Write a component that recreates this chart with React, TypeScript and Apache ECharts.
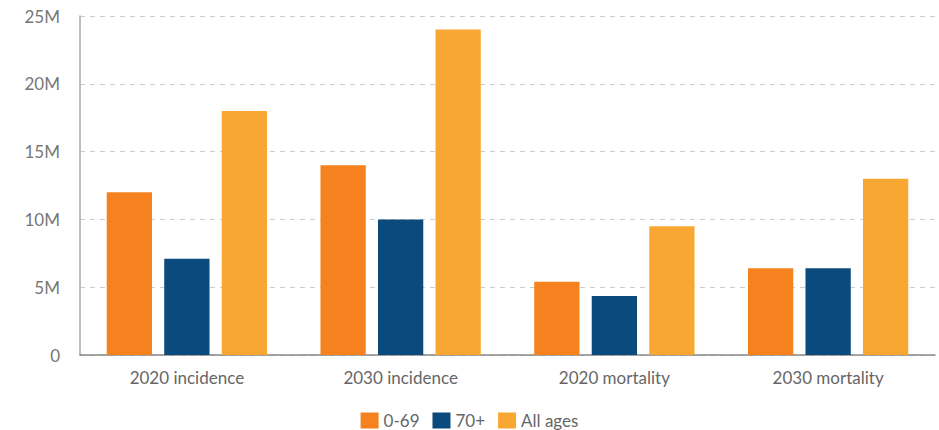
import React, { useEffect, useRef } from "react";
import * as echarts from "echarts";

const categories = ["2020 incidence", "2030 incidence", "2020 mortality", "2030 mortality"];
const seriesNames = ["0-69", "70+", "All ages"];
const age0to69 = [12000000, 14000000, 5400000, 6400000];
const age70plus = [7100000, 10000000, 4350000, 6400000];
const allAges = [18000000, 24000000, 9500000, 13000000];
const colors = ["#F5821F", "#0B4A7D", "#F8A832"];

export default function App() {
  const ref = useRef<HTMLDivElement>(null);
  useEffect(() => {
    document.body.style.margin = "0";
    const chart = echarts.init(ref.current!, null, { renderer: "svg" });
    const values = [age0to69, age70plus, allAges];
    chart.setOption({
      animation: false,
      textStyle: { fontFamily: "Lato" },
      grid: { left: 80, right: 4, top: 16, bottom: 75 },
      legend: {
        top: 412,
        left: "center",
        padding: 0,
        itemWidth: 18,
        itemHeight: 16,
        itemGap: 13,
        icon: "rect",
        textStyle: { color: "#666", fontSize: 17, fontFamily: "Lato" },
        data: seriesNames,
      },
      xAxis: {
        type: "category",
        data: categories,
        axisLine: { lineStyle: { color: "#888", width: 1.5 } },
        axisTick: { show: false },
        axisLabel: { color: "#666", fontSize: 17, margin: 14, fontFamily: "Lato" },
      },
      yAxis: {
        type: "value",
        min: 0,
        max: 25000000,
        interval: 5000000,
        axisLine: { show: true, lineStyle: { color: "#aaa", width: 1.5 } },
        axisTick: { show: false },
        axisLabel: {
          color: "#777",
          fontSize: 17,
          margin: 20,
          fontFamily: "Lato",
          formatter: (v: number) => (v === 0 ? "0" : v / 1000000 + "M"),
        },
        splitLine: { lineStyle: { color: "#ccc", type: [5, 5] } },
      },
      series: seriesNames.map((name, i) => ({
        name,
        type: "bar",
        data: values[i],
        itemStyle: { color: colors[i] },
        barGap: "27%",
        barCategoryGap: "25%",
      })),
    });
    return () => chart.dispose();
  }, []);
  return <div ref={ref} style={{ width: 939, height: 430 }} />;
}
